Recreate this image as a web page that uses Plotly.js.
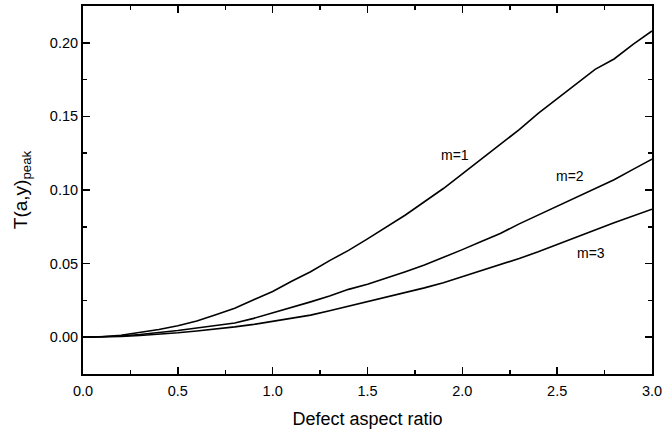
<!DOCTYPE html>
<html>
<head>
<meta charset="utf-8">
<script src="https://cdn.plot.ly/plotly-3.0.1.min.js"></script>
<style>html,body{margin:0;padding:0;background:#fff;}#chart{width:662px;height:434px;}</style>
</head>
<body>
<div id="chart"></div>
<script>
const xValues = [0,0.1,0.2,0.3,0.4,0.5,0.6,0.7,0.8,0.9,1.0,1.1,1.2,1.3,1.4,1.5,1.6,1.7,1.8,1.9,2.0,2.1,2.2,2.3,2.4,2.5,2.6,2.7,2.8,2.9,3.0];
const m1 = [0,0.0003,0.0013,0.003,0.0052,0.0078,0.011,0.0152,0.0197,0.0255,0.031,0.038,0.0445,0.052,0.059,0.0668,0.075,0.083,0.092,0.101,0.111,0.121,0.131,0.141,0.152,0.162,0.172,0.182,0.189,0.199,0.208];
const m2 = [0,0.0002,0.0008,0.0018,0.003,0.0045,0.0062,0.008,0.0097,0.0128,0.0165,0.020,0.024,0.028,0.0325,0.036,0.040,0.0445,0.049,0.054,0.0595,0.065,0.0705,0.077,0.083,0.089,0.095,0.101,0.107,0.114,0.121];
const m3 = [0,0.0001,0.0005,0.0012,0.002,0.003,0.0042,0.0055,0.007,0.0087,0.0108,0.0128,0.015,0.018,0.021,0.0243,0.0275,0.0305,0.0335,0.037,0.041,0.045,0.049,0.0535,0.058,0.0628,0.0678,0.0728,0.0778,0.0825,0.087];
const seriesNames = ['m=1','m=2','m=3'];
const labelX = [1.96, 2.57, 2.68];
const labelY = [0.1235, 0.1097, 0.0573];
const xTicks = [0,0.5,1.0,1.5,2.0,2.5,3.0];
const xTickText = ['0.0','0.5','1.0','1.5','2.0','2.5','3.0'];
const yTicks = [0,0.05,0.10,0.15,0.20];
const yTickText = ['0.00','0.05','0.10','0.15','0.20'];

const series = [m1, m2, m3];
const traces = series.map((ys, i) => ({
  x: xValues, y: ys, type: 'scatter', mode: 'lines', name: seriesNames[i],
  line: {color: '#000', width: 1.6}, hoverinfo: 'skip'
}));

const font = {family: 'Liberation Sans, Arial, sans-serif', color: '#000'};
const axisCommon = {
  showline: true, linecolor: '#000', linewidth: 2, mirror: 'allticks',
  ticks: 'inside', ticklen: 7, tickwidth: 1.5, tickcolor: '#000',
  showgrid: false, zeroline: false, ticklabeloverflow: 'allow',
  tickfont: Object.assign({size: 14.5}, font)
};

const layout = {
  width: 662, height: 434,
  margin: {l: 83, r: 10, t: 6, b: 60},
  paper_bgcolor: '#fff', plot_bgcolor: '#fff',
  showlegend: false,
  xaxis: Object.assign({}, axisCommon, {
    range: [0, 3], tickmode: 'array', tickvals: xTicks, ticktext: xTickText,
    ticklabelstandoff: 3,
    minor: {dtick: 0.25, tick0: 0, ticks: 'inside', ticklen: 4, tickwidth: 1.5, tickcolor: '#000', showgrid: false},
    title: {text: 'Defect aspect ratio', font: Object.assign({size: 18}, font), standoff: 14}
  }),
  yaxis: Object.assign({}, axisCommon, {
    range: [-0.025, 0.225], tickmode: 'array', tickvals: yTicks, ticktext: yTickText,
    minor: {dtick: 0.025, tick0: 0, ticks: 'inside', ticklen: 4, tickwidth: 1.5, tickcolor: '#000', showgrid: false},
    title: {text: 'T(a,y)<sub>peak</sub>', font: Object.assign({size: 19}, font), standoff: 17}
  }),
  annotations: seriesNames.map((n, i) => ({
    x: labelX[i], y: labelY[i], xref: 'x', yref: 'y', text: n, showarrow: false,
    font: Object.assign({size: 14}, font)
  }))
};

Plotly.newPlot('chart', traces, layout, {staticPlot: true, displayModeBar: false});
</script>
</body>
</html>
